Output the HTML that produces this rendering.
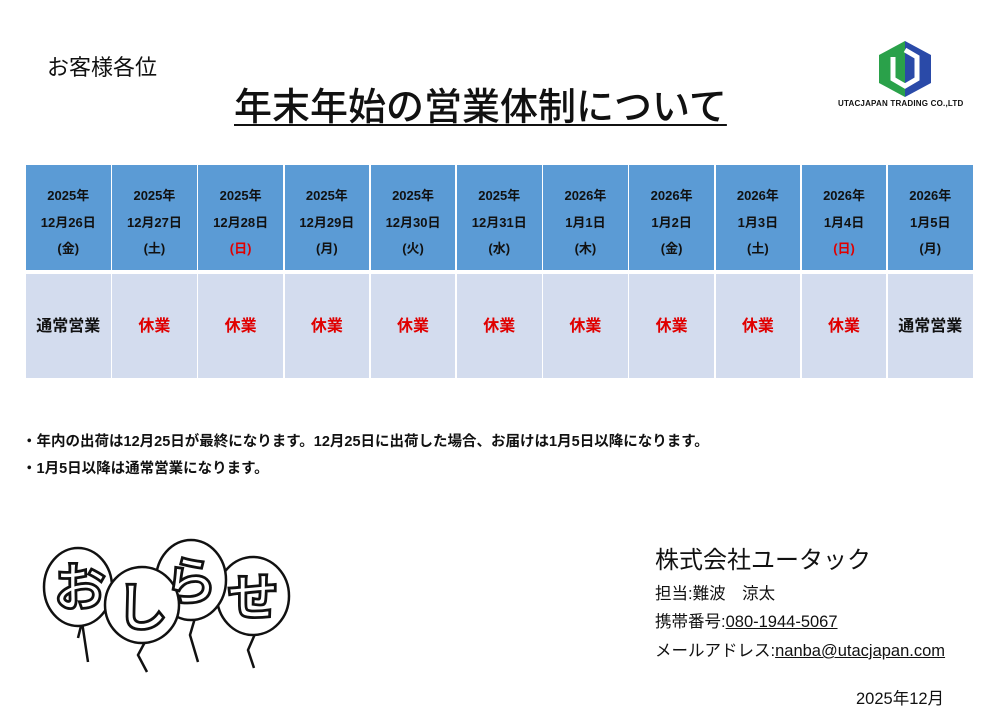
<!DOCTYPE html>
<html><head><meta charset="utf-8"><style>
body{margin:0;width:1000px;height:723px;background:#fff;position:relative;overflow:hidden;font-family:"Liberation Sans","Noto Sans CJK JP",sans-serif;color:#111}
.a{position:absolute;white-space:nowrap}
.c{position:absolute;text-align:center;font-weight:bold}
.h{background:#5b9bd5;font-size:13px;line-height:26.5px;padding-top:18px;box-sizing:border-box;height:105px;top:165px}
.b{background:#d3dcee;font-size:16px;line-height:106px;height:104px;top:274px}
.r{color:#e00000}
</style></head><body>
<div class="a" style="left:47px;top:50px;font-size:22px">お客様各位</div>
<div class="a" style="left:234px;top:76px;font-size:38px;font-weight:500;text-decoration:underline;text-underline-offset:4px;text-decoration-thickness:2px">年末年始の営業体制について</div>
<svg class="a" style="left:875px;top:38px" width="60" height="62" viewBox="0 0 60 60">
<polygon points="30,2 56,16 56,44 30,58" fill="#2a4aa8"/>
<polygon points="30,2 4,16 4,44 30,58" fill="#2aa14a"/>
<path d="M18,18 V40 L30,47 L42,40 V18 L30,11" fill="none" stroke="#fff" stroke-width="5"/>
</svg>
<div class="a" style="left:838px;top:99px;font-size:8px;font-weight:bold;letter-spacing:0.2px">UTACJAPAN TRADING CO.,LTD</div>
<div id="t"></div>
<div class="a" style="left:22px;top:430px;font-size:14.5px;font-weight:bold">・年内の出荷は12月25日が最終になります。12月25日に出荷した場合、お届けは1月5日以降になります。</div>
<div class="a" style="left:22px;top:457px;font-size:14.5px;font-weight:bold">・1月5日以降は通常営業になります。</div>
<svg class="a" style="left:30px;top:530px" width="280" height="150" viewBox="0 0 280 150">
<g fill="#fff" stroke="#111" stroke-width="2.5">
<path d="M52,92 L48,108 M52,92 L58,132" />
<path d="M115,112 L108,125 L117,142" />
<path d="M165,88 L160,105 L168,132" />
<path d="M225,104 L218,120 L224,138" />
<ellipse cx="48" cy="57" rx="34" ry="39"/>
<ellipse cx="223" cy="66" rx="36" ry="39"/>
<ellipse cx="161" cy="50" rx="35" ry="40"/>
<ellipse cx="112" cy="75" rx="37" ry="38"/>
</g>
<g font-size="52" font-weight="bold" fill="#fff" stroke="#111" stroke-width="2.8" text-anchor="middle" font-family="Noto Sans CJK JP,sans-serif">
<text x="50" y="76">お</text><text x="112" y="96">し</text><text x="161" y="70">ら</text><text x="223" y="86">せ</text>
</g>
</svg>
<div class="a" style="left:655px;top:540px;font-size:24px">株式会社ユータック</div>
<div class="a" style="left:655px;top:580px;font-size:16.5px">担当:難波　涼太</div>
<div class="a" style="left:655px;top:608px;font-size:16.5px">携帯番号:<u>080-1944-5067</u></div>
<div class="a" style="left:655px;top:637px;font-size:16.5px">メールアドレス:<u>nanba@utacjapan.com</u></div>
<div class="a" style="left:856px;top:685px;font-size:16.5px">2025年12月</div>
<script>
var d=[["2025年","12月26日","(金)",0,"通常営業"],["2025年","12月27日","(土)",0,"休業"],["2025年","12月28日","(日)",1,"休業"],["2025年","12月29日","(月)",0,"休業"],["2025年","12月30日","(火)",0,"休業"],["2025年","12月31日","(水)",0,"休業"],["2026年","1月1日","(木)",0,"休業"],["2026年","1月2日","(金)",0,"休業"],["2026年","1月3日","(土)",0,"休業"],["2026年","1月4日","(日)",1,"休業"],["2026年","1月5日","(月)",0,"通常営業"]];
var h="";for(var i=0;i<11;i++){var x=26+i*86.2,w=84.5;var e=d[i];
h+='<div class="c h" style="left:'+x+'px;width:'+w+'px">'+e[0]+'<br>'+e[1]+'<br><span class="'+(e[3]?'r':'')+'">'+e[2]+'</span></div>';
h+='<div class="c b '+(e[4]=="休業"?'r':'')+'" style="left:'+x+'px;width:'+w+'px">'+e[4]+'</div>';}
document.getElementById('t').innerHTML=h;
</script>
</body></html>
